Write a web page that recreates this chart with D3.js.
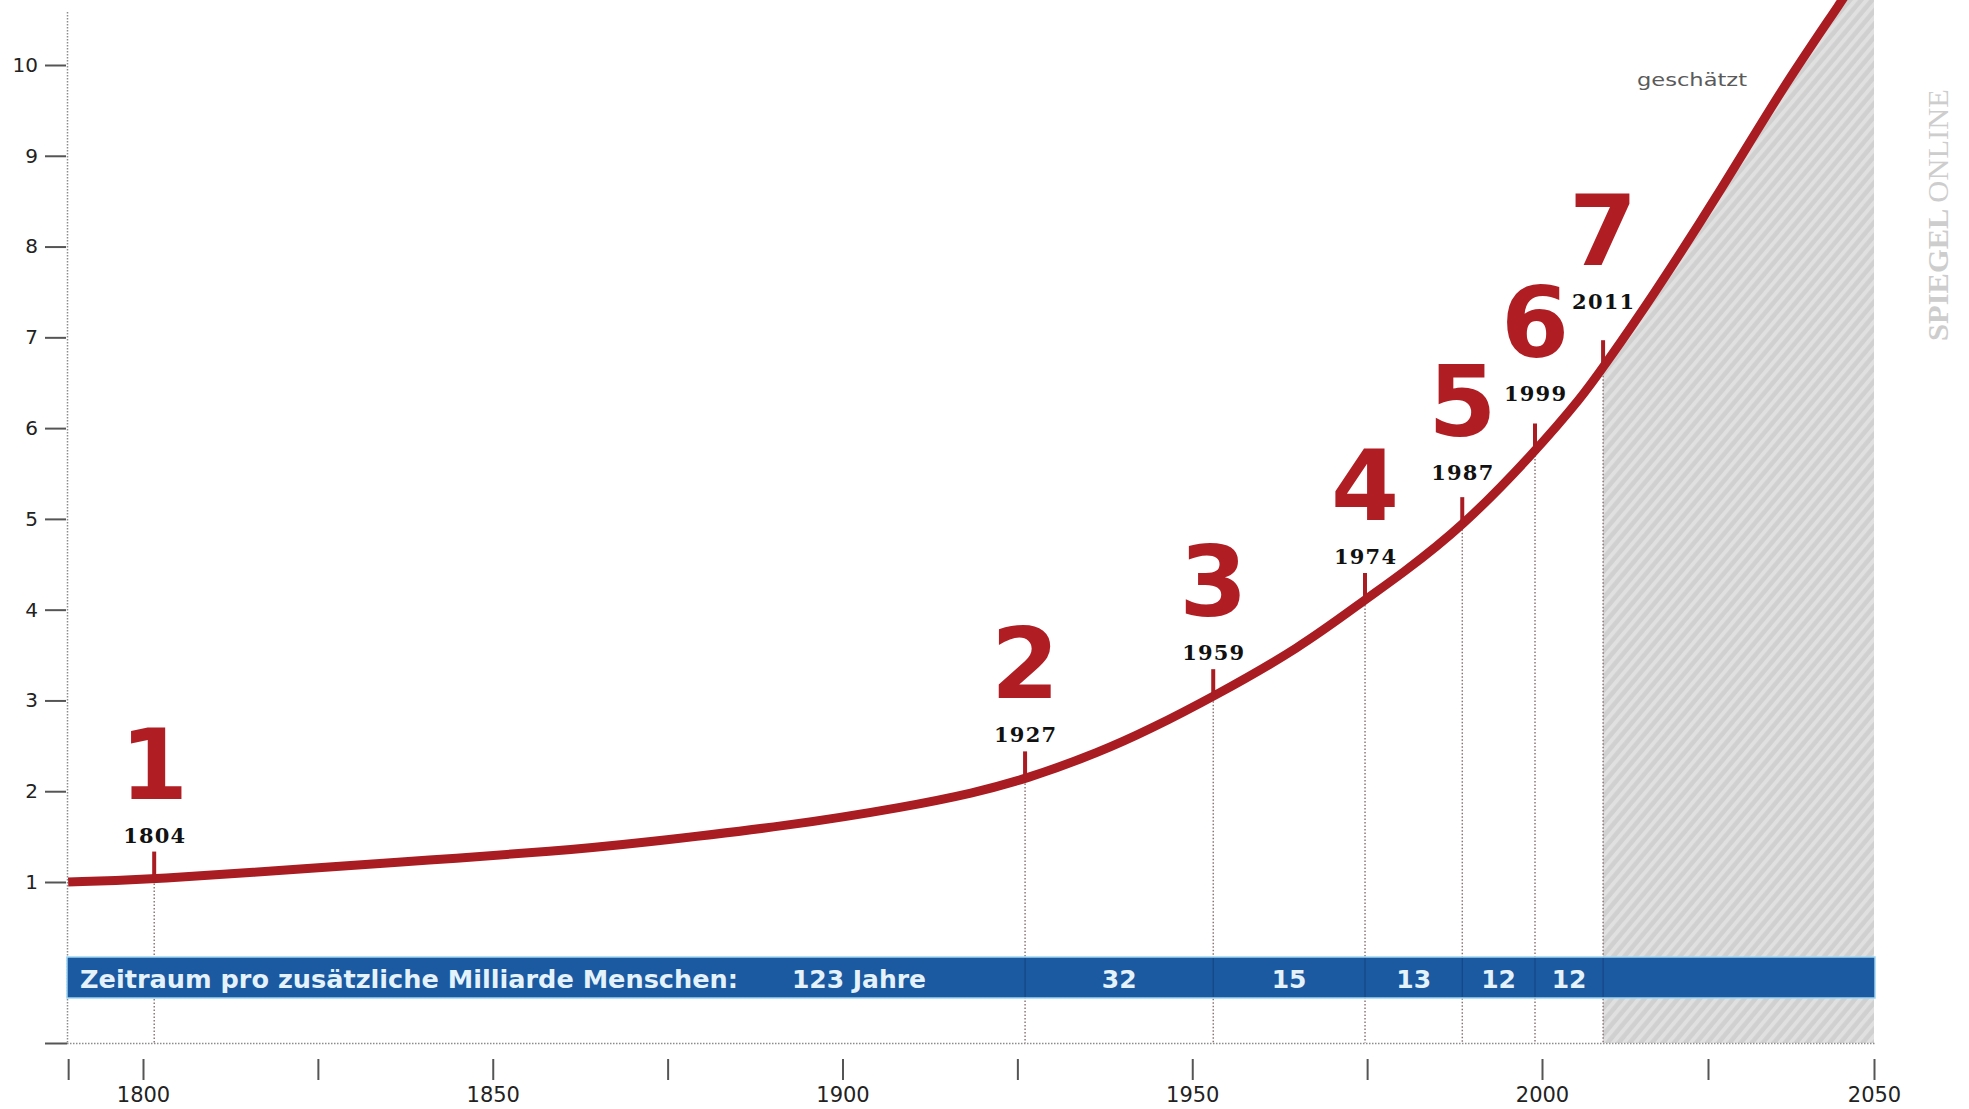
<!DOCTYPE html>
<html>
<head>
<meta charset="utf-8">
<script src="https://cdn.jsdelivr.net/npm/d3@7"></script>
<style>
html,body{margin:0;padding:0;background:#fff;}
svg{display:block;}
</style>
</head>
<body>
<svg id="chart" width="1969" height="1109"></svg>
<script>
// ---------- data ----------
const curveYears  = [1789.3, 1801.7, 1823.9, 1840.6, 1859.2, 1871.0, 1892.5, 1909.2, 1918.7, 1926.1, 1936.8, 1943.9, 1953.0, 1965.4, 1974.7, 1979.7, 1988.6, 1998.9, 2006.2, 2009.2, 2016.3, 2027.3, 2036.3, 2045.3, 2050.0];
const curveValues = [1.00,   1.03,   1.15,   1.24,   1.34,   1.43,   1.62,   1.83,   1.98,   2.13,   2.43,   2.68,   3.04,   3.58,   4.11,   4.38,   4.91,   5.73,   6.36,   6.67,   7.41,   8.66,   9.76,   10.72,  11.25];

const milestoneNumbers   = ['1', '2', '3', '4', '5', '6', '7'];
const milestoneYears     = ['1804', '1927', '1959', '1974', '1987', '1999', '2011'];
const milestonePlotYears = [1801.6, 1926.1, 1953.0, 1974.7, 1988.6, 1999.0, 2009.2];
const spanLabels = ['123 Jahre', '32', '15', '13', '12', '12'];
const bandTitle = 'Zeitraum pro zusätzliche Milliarde Menschen:';
const estimateLabel = 'geschätzt';
const estimateStartYear = 2009.2;

const yTickValues = [1, 2, 3, 4, 5, 6, 7, 8, 9, 10];
const xTickValues = [1789.3, 1800, 1825, 1850, 1875, 1900, 1925, 1950, 1975, 2000, 2025, 2050];
const xLabelYears = [1800, 1850, 1900, 1950, 2000, 2050];
const domainEnd = 2050;

// ---------- layout ----------
const W = 1969, H = 1109;
const bottomY = 1043;
const bandTop = 957, bandH = 41;
const RED = '#a81c22';

const svg = d3.select('#chart');
svg.append('rect').attr('width', W).attr('height', H).attr('fill', '#fff');

const x = d3.scaleLinear().domain([1800, 2000, 2050]).range([143, 1542, 1874]);
const y = d3.scaleLinear().domain([1, 10]).range([882, 65]);

const curveData = curveYears.map((yr, i) => ({yr, v: curveValues[i]}));

// ---------- hatch pattern ----------
const defs = svg.append('defs');
const pat = defs.append('pattern').attr('id', 'hatch')
  .attr('patternUnits', 'userSpaceOnUse').attr('width', 8.5).attr('height', 8.5)
  .attr('patternTransform', 'rotate(40)');
pat.append('rect').attr('width', 8.5).attr('height', 8.5).attr('fill', '#d0d0d0');
pat.append('rect').attr('width', 4).attr('height', 8.5).attr('fill', '#e0e0e0');

defs.append('clipPath').attr('id', 'estClip').append('rect')
  .attr('x', x(estimateStartYear)).attr('y', -50)
  .attr('width', x(domainEnd) - x(estimateStartYear)).attr('height', bottomY + 50);

const smooth = d3.curveBasis;

// estimated region (below curve)
const area = d3.area().curve(smooth)
  .x(d => x(d.yr)).y0(bottomY).y1(d => y(d.v));
svg.append('path')
  .attr('d', area(curveData))
  .attr('fill', 'url(#hatch)')
  .attr('clip-path', 'url(#estClip)');

// ---------- axes ----------
svg.append('line').attr('x1', 67.5).attr('x2', 67.5).attr('y1', 12).attr('y2', bottomY)
  .attr('stroke', '#8c8c8c').attr('stroke-width', 1.5).attr('stroke-dasharray', '1.5,1.5');
svg.append('line').attr('x1', 67).attr('x2', x(domainEnd) + 1).attr('y1', bottomY + 0.5).attr('y2', bottomY + 0.5)
  .attr('stroke', '#8c8c8c').attr('stroke-width', 1.5).attr('stroke-dasharray', '1.5,1.5');
svg.append('line').attr('x1', 45).attr('x2', 67).attr('y1', bottomY + 0.5).attr('y2', bottomY + 0.5)
  .attr('stroke', '#555').attr('stroke-width', 2);

const yAxis = svg.append('g').attr('transform', 'translate(66,0)')
  .call(d3.axisLeft(y).tickValues(yTickValues).tickSize(21).tickPadding(7).tickFormat(d3.format('d')));
yAxis.select('.domain').remove();
yAxis.selectAll('.tick line').attr('stroke', '#555').attr('stroke-width', 2);
yAxis.selectAll('.tick text').attr('font-family', '"DejaVu Sans", Verdana, sans-serif')
  .attr('font-size', 20).attr('fill', '#222');

const xAxis = svg.append('g').attr('transform', `translate(0,${1059})`)
  .call(d3.axisBottom(x).tickValues(xTickValues).tickSize(21).tickPadding(7)
    .tickFormat(d => xLabelYears.includes(d) ? String(d) : ''));
xAxis.select('.domain').remove();
xAxis.selectAll('.tick line').attr('stroke', '#555').attr('stroke-width', 2);
xAxis.selectAll('.tick text').attr('font-family', '"DejaVu Sans", Verdana, sans-serif')
  .attr('font-size', 21).attr('fill', '#222');

// ---------- curve ----------
const line = d3.line().curve(smooth).x(d => x(d.yr)).y(d => y(d.v));
const curvePath = svg.append('path')
  .attr('d', line(curveData))
  .attr('fill', 'none').attr('stroke', RED).attr('stroke-width', 9);

const node = curvePath.node();
const total = node.getTotalLength();
function yAtX(px) {
  let lo = 0, hi = total;
  for (let i = 0; i < 40; i++) {
    const mid = (lo + hi) / 2;
    if (node.getPointAtLength(mid).x < px) lo = mid; else hi = mid;
  }
  return node.getPointAtLength(lo).y;
}

const ms = milestonePlotYears.map((yr, i) => {
  const mx = x(yr);
  const cy = yAtX(mx);
  const labelC = Math.min(cy - 44, yAtX(mx + 31) - 22);
  return {mx, cy, labelC, num: milestoneNumbers[i], year: milestoneYears[i]};
});

// milestone dotted lines
ms.forEach(m => {
  svg.append('line').attr('x1', m.mx).attr('x2', m.mx).attr('y1', m.cy + 5).attr('y2', bottomY)
    .attr('stroke', '#7d6363').attr('stroke-width', 1.3).attr('stroke-dasharray', '1.5,2');
});

// ---------- band ----------
svg.append('rect').attr('x', 67).attr('y', bandTop).attr('width', x(domainEnd) + 1 - 67).attr('height', bandH)
  .attr('fill', '#1b59a1').attr('stroke', '#9fd6f2').attr('stroke-width', 1.5);
ms.slice(1).forEach(m => {
  svg.append('line').attr('x1', m.mx).attr('x2', m.mx).attr('y1', bandTop + 1).attr('y2', bandTop + bandH - 1)
    .attr('stroke', 'rgba(10,30,70,0.35)').attr('stroke-width', 1);
});
const bandFont = '"DejaVu Sans", Verdana, sans-serif';
svg.append('text').attr('x', 80).attr('y', 988).text(bandTitle)
  .attr('font-family', bandFont).attr('font-weight', 'bold').attr('font-size', 24)
  .attr('fill', '#e4f3fb').attr('textLength', 658).attr('lengthAdjust', 'spacingAndGlyphs');
spanLabels.forEach((s, i) => {
  const t = svg.append('text').attr('y', 988).text(s)
    .attr('font-family', bandFont).attr('font-weight', 'bold').attr('font-size', 25).attr('fill', '#e4f3fb');
  if (i === 0) {
    t.attr('x', ms[1].mx - 99).attr('text-anchor', 'end');
  } else {
    t.attr('x', (ms[i].mx + ms[i + 1].mx) / 2).attr('text-anchor', 'middle');
  }
});

curvePath.raise();

// ---------- milestone marks ----------
ms.forEach(m => {
  svg.append('line').attr('x1', m.mx).attr('x2', m.mx).attr('y1', m.cy).attr('y2', m.cy - 27)
    .attr('stroke', RED).attr('stroke-width', 4);
  svg.append('text').attr('x', m.mx).attr('y', m.labelC + 8).text(m.year)
    .attr('text-anchor', 'middle').attr('font-family', '"DejaVu Serif", "Liberation Serif", serif')
    .attr('font-weight', 'bold').attr('font-size', 21).attr('fill', '#111')
    .attr('textLength', 62).attr('lengthAdjust', 'spacing');
  svg.append('text').attr('x', m.mx).attr('y', m.labelC - 36).text(m.num)
    .attr('text-anchor', 'middle').attr('font-family', '"DejaVu Sans", Verdana, sans-serif')
    .attr('font-weight', 'bold').attr('font-size', 98).attr('fill', '#b01e24');
});

// ---------- annotations ----------
svg.append('text').attr('x', 1637).attr('y', 86).text(estimateLabel)
  .attr('font-family', '"DejaVu Sans", Verdana, sans-serif').attr('font-size', 18)
  .attr('fill', '#5a5a5a').attr('textLength', 110).attr('lengthAdjust', 'spacingAndGlyphs');

const wm = svg.append('text').attr('transform', 'translate(1948,341) rotate(-90)')
  .attr('font-family', '"Liberation Serif", "DejaVu Serif", serif').attr('font-size', 30)
  .attr('fill', '#cdcdcd').attr('textLength', 252).attr('lengthAdjust', 'spacingAndGlyphs');
wm.append('tspan').attr('font-weight', 'bold').text('SPIEGEL ');
wm.append('tspan').attr('font-weight', 'normal').text('ONLINE');
</script>
</body>
</html>
